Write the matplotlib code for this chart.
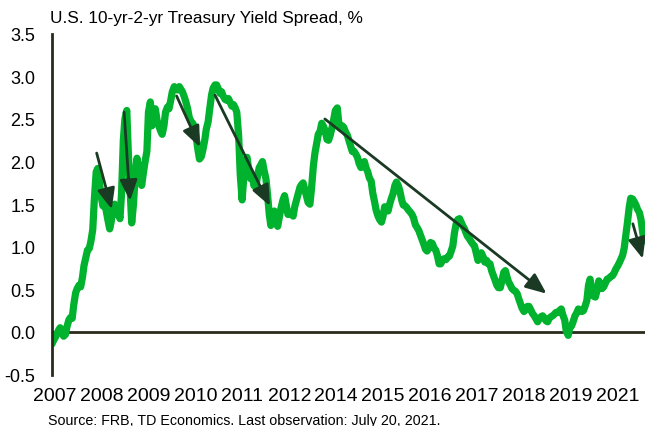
import numpy as np
import pandas as pd
import matplotlib
matplotlib.use("Agg")
import matplotlib.pyplot as plt

plt.rcParams['font.family'] = ['Liberation Sans', 'DejaVu Sans']

# semi-monthly readings of the 10y-2y spread, Jan 2007 - Jul 2021
spread_2007 = [-0.14, -0.10, -0.06, -0.02, 0.02, 0.05, 0.00, -0.05, -0.03, 0.06, 0.14, 0.17,
               0.16, 0.32, 0.46, 0.51, 0.55, 0.53, 0.64, 0.78, 0.88, 0.96, 0.98, 1.06]
spread_2008 = [1.20, 1.55, 1.88, 1.92, 1.75, 1.60, 1.48, 1.55, 1.42, 1.32, 1.21, 1.30,
               1.46, 1.50, 1.38, 1.44, 1.33, 1.62, 2.25, 2.50, 2.60, 2.10, 1.65, 1.28]
spread_2009 = [1.50, 1.82, 2.04, 1.93, 1.86, 1.72, 1.88, 2.00, 2.12, 2.58, 2.70, 2.42,
               2.55, 2.62, 2.48, 2.42, 2.36, 2.32, 2.42, 2.58, 2.64, 2.62, 2.72, 2.82]
spread_2010 = [2.88, 2.86, 2.84, 2.88, 2.85, 2.82, 2.76, 2.70, 2.62, 2.52, 2.47, 2.45,
               2.41, 2.30, 2.14, 2.03, 2.06, 2.14, 2.25, 2.38, 2.47, 2.62, 2.78, 2.86]
spread_2011 = [2.90, 2.90, 2.85, 2.80, 2.82, 2.77, 2.73, 2.72, 2.74, 2.70, 2.65, 2.67,
               2.63, 2.58, 2.30, 1.85, 1.55, 1.80, 2.02, 2.05, 1.88, 1.80, 1.84, 1.72]
spread_2012 = [1.70, 1.82, 1.93, 1.96, 2.00, 1.90, 1.80, 1.62, 1.38, 1.25, 1.30, 1.42,
               1.35, 1.24, 1.36, 1.46, 1.55, 1.60, 1.48, 1.38, 1.38, 1.40, 1.36, 1.47]
spread_2013 = [1.55, 1.62, 1.70, 1.73, 1.75, 1.68, 1.60, 1.52, 1.50, 1.68, 1.95, 2.10,
               2.22, 2.32, 2.36, 2.45, 2.41, 2.36, 2.26, 2.25, 2.32, 2.40, 2.50, 2.60]
spread_2014 = [2.63, 2.45, 2.39, 2.42, 2.40, 2.35, 2.31, 2.25, 2.18, 2.12, 2.12, 2.09,
               2.05, 1.98, 1.93, 1.97, 2.00, 1.93, 1.88, 1.81, 1.77, 1.63, 1.53, 1.43]
spread_2015 = [1.36, 1.32, 1.29, 1.36, 1.47, 1.45, 1.42, 1.50, 1.57, 1.62, 1.72, 1.76,
               1.72, 1.66, 1.55, 1.49, 1.48, 1.46, 1.43, 1.41, 1.38, 1.34, 1.26, 1.23]
spread_2016 = [1.19, 1.14, 1.08, 1.03, 0.97, 0.95, 0.99, 1.05, 1.04, 0.99, 0.96, 0.90,
               0.80, 0.80, 0.84, 0.86, 0.85, 0.88, 0.89, 0.94, 1.01, 1.16, 1.27, 1.32]
spread_2017 = [1.33, 1.29, 1.24, 1.21, 1.16, 1.12, 1.09, 1.06, 1.03, 1.01, 0.92, 0.84,
               0.88, 0.93, 0.88, 0.82, 0.84, 0.80, 0.80, 0.72, 0.66, 0.61, 0.55, 0.52]
spread_2018 = [0.52, 0.60, 0.70, 0.72, 0.65, 0.59, 0.55, 0.51, 0.49, 0.48, 0.45, 0.39,
               0.33, 0.28, 0.24, 0.26, 0.30, 0.30, 0.26, 0.22, 0.19, 0.16, 0.12, 0.15]
spread_2019 = [0.18, 0.19, 0.16, 0.13, 0.12, 0.16, 0.18, 0.19, 0.21, 0.23, 0.23, 0.25,
               0.27, 0.20, 0.14, 0.01, -0.04, 0.05, 0.07, 0.12, 0.19, 0.22, 0.27, 0.26]
spread_2020 = [0.24, 0.25, 0.31, 0.37, 0.55, 0.62, 0.47, 0.42, 0.41, 0.48, 0.60, 0.56,
               0.51, 0.53, 0.58, 0.62, 0.63, 0.65, 0.66, 0.69, 0.74, 0.77, 0.81, 0.85]
spread_2021 = [0.90, 0.98, 1.15, 1.30, 1.46, 1.57, 1.56, 1.53, 1.49, 1.44, 1.40, 1.32,
               1.16, 1.07]

spread = (spread_2007 + spread_2008 + spread_2009 + spread_2010 + spread_2011
          + spread_2012 + spread_2013 + spread_2014 + spread_2015 + spread_2016
          + spread_2017 + spread_2018 + spread_2019 + spread_2020 + spread_2021)
dates = pd.date_range('2007-01-01', periods=len(spread), freq='SMS')

# trend arrows: (start date, start value, end date, end value)
arrows = [
    ('2008-02-05', 2.10, '2008-06-19', 1.44),
    ('2008-10-08', 2.58, '2008-11-30', 1.54),
    ('2010-01-22', 2.77, '2010-08-19', 2.17),
    ('2011-01-01', 2.78, '2012-05-07', 1.48),
    ('2013-09-12', 2.50, '2019-02-19', 0.45),
    ('2021-04-03', 1.27, '2021-07-01', 0.86),
]

# the source chart labels its axis with these (2013 and 2020 skipped)
year_labels = ['2007', '2008', '2009', '2010', '2011', '2012', '2014',
               '2015', '2016', '2017', '2018', '2019', '2021']


def decimal_year(d):
    d = pd.to_datetime(d)
    return d.year + (d.dayofyear - 1) / 365.25


green = '#00B22D'
dark = '#1B3A24'
axis_col = '#2A2A1C'

fig = plt.figure(figsize=(6.45, 4.27), dpi=100)
ax = fig.add_axes([0.0806, 0.1204, 0.9194, 0.7981])

ax.plot(decimal_year(dates), spread, color=green, lw=5.2,
        solid_joinstyle='round', solid_capstyle='round', zorder=2)

for d0, v0, d1, v1 in arrows:
    ax.annotate('', xy=(decimal_year(d1), v1), xytext=(decimal_year(d0), v0),
                arrowprops=dict(arrowstyle='-|>,head_length=0.9,head_width=0.38',
                                color=dark, lw=2.0, mutation_scale=14,
                                shrinkA=0, shrinkB=0), zorder=3)

ax.axhline(0, color=axis_col, lw=2.0, zorder=1)

ax.set_xlim(2007.0, 2021.55)
ax.set_ylim(-0.5, 3.5)
ax.set_yticks(np.arange(-0.5, 3.51, 0.5))
ax.set_yticklabels([f'{v:.1f}' for v in np.arange(-0.5, 3.51, 0.5)])

tick_pos = np.linspace(2007.07, 2007.07 + 12 * 1.1506, len(year_labels))
ax.set_xticks(tick_pos)
ax.set_xticklabels(year_labels)

for s in ['top', 'right', 'bottom']:
    ax.spines[s].set_visible(False)
ax.spines['left'].set_color(axis_col)
ax.spines['left'].set_linewidth(2.0)
ax.tick_params(axis='y', length=0, pad=12, labelsize=13)
ax.tick_params(axis='x', length=0, pad=9, labelsize=14)

fig.text(50 / 645, 1 - 18 / 427, 'U.S. 10-yr-2-yr Treasury Yield Spread, %',
         fontsize=12.4, va='center', ha='left')
fig.text(48 / 645, 1 - 421 / 427,
         'Source: FRB, TD Economics. Last observation: July 20, 2021.',
         fontsize=10.3, va='center', ha='left')

fig.savefig('out.png', dpi=100)
